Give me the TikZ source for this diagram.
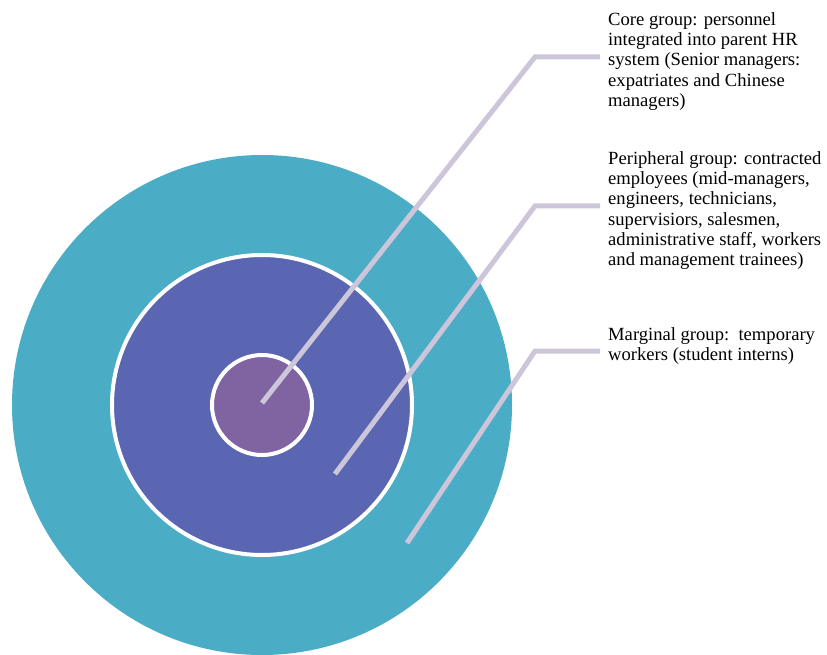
\documentclass[tikz,border=0pt]{standalone}
\usepackage{fontspec}
\setmainfont{Liberation Serif}
\definecolor{outerc}{HTML}{4BACC6}
\definecolor{midc}{HTML}{5A66B1}
\definecolor{innerc}{HTML}{8064A2}
\definecolor{leadc}{HTML}{CDC6DA}
\begin{document}
\begin{tikzpicture}[x=1pt,y=-1pt,
  ring/.style={circle,inner sep=0pt,draw=white,line width=4pt},
  leader/.style={draw=leadc,line width=5pt,line cap=butt,line join=miter},
  label/.style={anchor=north west,inner sep=0pt,align=left,
     font=\fontsize{18.6}{20.3}\selectfont}]
\useasboundingbox (0,0) rectangle (827,655);
\node[circle,inner sep=0pt,fill=outerc,minimum size=500pt] (outer) at (262,405) {};
\node[ring,fill=midc,minimum size=300pt] (mid) at (262,405) {};
\node[ring,fill=innerc,minimum size=100pt] (inner) at (262,405) {};
\coordinate (s1) at (262,403);
\coordinate (k1) at (535,57);
\coordinate (e1) at (600,57);
\coordinate (s2) at (335,474);
\coordinate (k2) at (535,206);
\coordinate (e2) at (600,206);
\coordinate (s3) at (407,543);
\coordinate (k3) at (535,351);
\coordinate (e3) at (600,351);
\draw[leader] (s1) -- (k1) -- (e1);
\draw[leader] (s2) -- (k2) -- (e2);
\draw[leader] (s3) -- (k3) -- (e3);
\node[label] (t1) at (608,12) {Core group: personnel\\integrated into parent HR\\system (Senior managers:\\expatriates and Chinese\\managers)};
\node[label] (t2) at (608,151) {Peripheral group: contracted\\employees (mid-managers,\\engineers, technicians,\\supervisiors, salesmen,\\administrative staff, workers\\and management trainees)};
\node[label] (t3) at (608,327) {Marginal group:\ \ temporary\\workers (student interns)};
\end{tikzpicture}
\end{document}
